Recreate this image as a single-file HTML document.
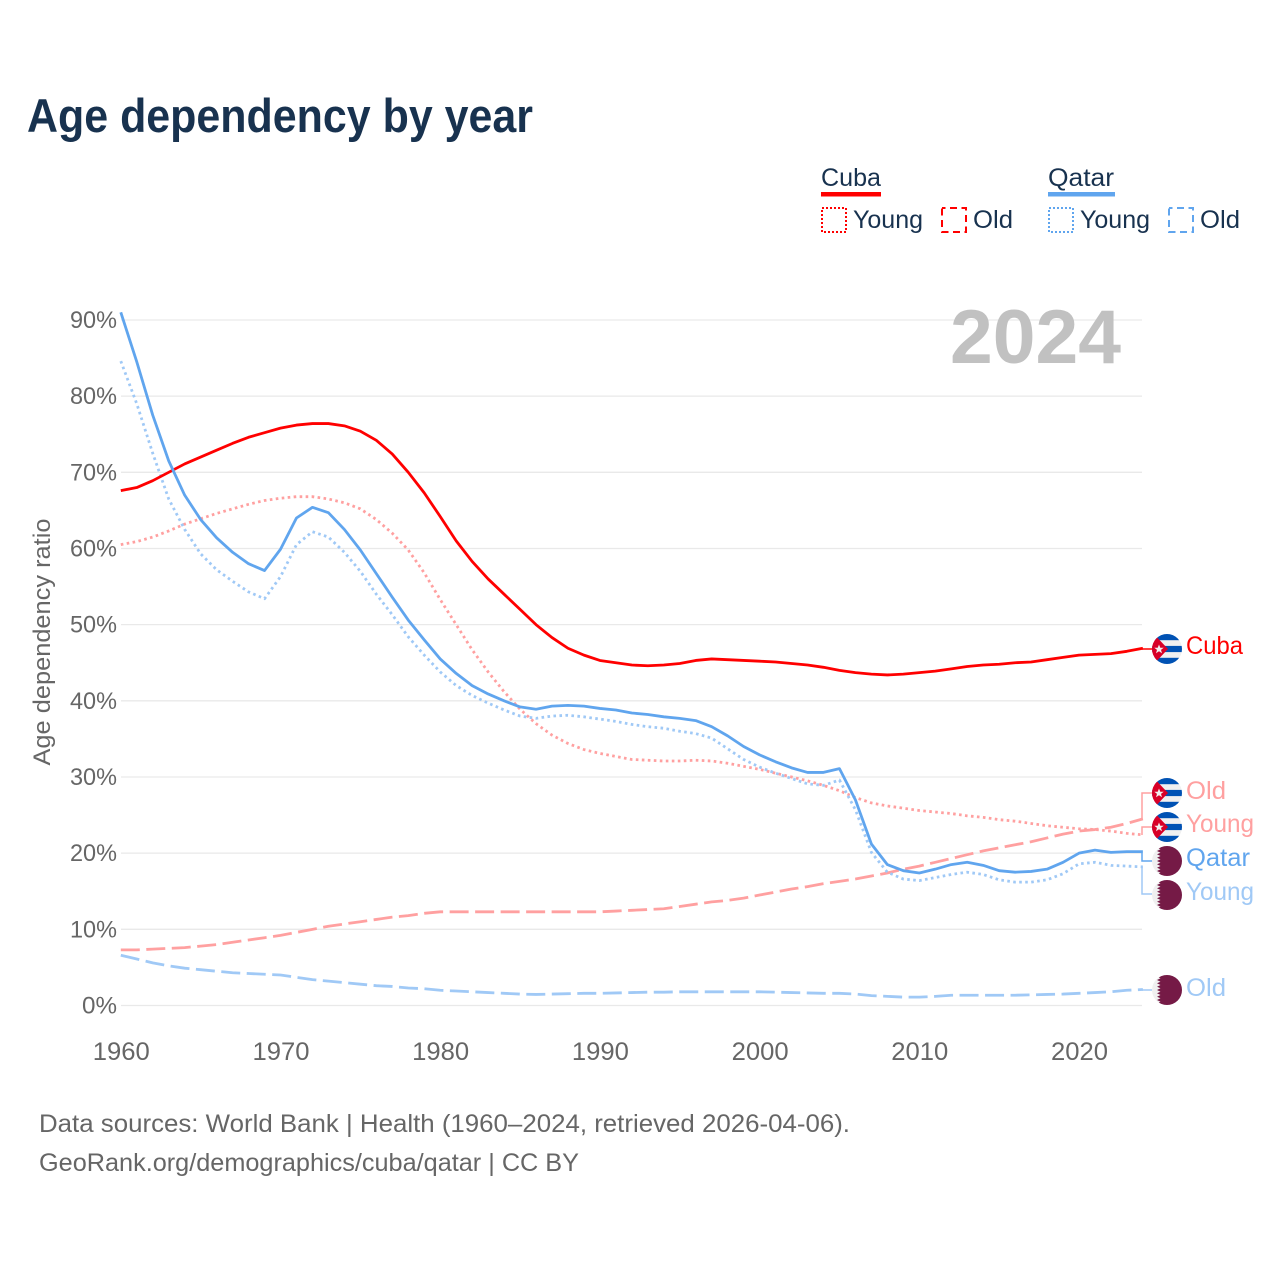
<!DOCTYPE html>
<html lang="en">
<head>
<meta charset="utf-8">
<title>Age dependency by year</title>
<style>
html,body{margin:0;padding:0;background:#fff;}
svg{display:block;font-family:"Liberation Sans",sans-serif;}
</style>
</head>
<body>
<svg id="chart" xmlns="http://www.w3.org/2000/svg" width="1280" height="1280" viewBox="0 0 1280 1280">
<defs>
<clipPath id="flag-clip"><circle cx="0" cy="0" r="15"/></clipPath>
<g id="flag-cuba" clip-path="url(#flag-clip)">
<rect x="-15" y="-15" width="30" height="30" fill="#f0f0f0"/>
<rect x="-15" y="-15" width="30" height="6.2" fill="#0052b4"/>
<rect x="-15" y="-3.1" width="30" height="6.2" fill="#0052b4"/>
<rect x="-15" y="8.8" width="30" height="6.2" fill="#0052b4"/>
<polygon points="-15,-17 1,0 -15,17" fill="#d80027"/>
<polygon points="-8,-4.5 -6.7,-1.2 -3.3,-1.2 -6,0.9 -5,4.3 -8,2.3 -11,4.3 -10,0.9 -12.7,-1.2 -9.3,-1.2" fill="#f0f0f0"/>
</g>
<g id="flag-qatar" clip-path="url(#flag-clip)">
<rect x="-15" y="-15" width="30" height="30" fill="#f0f0f0"/>
<path d="M-6.5 -15L-10 -13.3L-6.5 -11.7L-10 -10L-6.5 -8.3L-10 -6.7L-6.5 -5L-10 -3.3L-6.5 -1.7L-10 0L-6.5 1.7L-10 3.3L-6.5 5L-10 6.7L-6.5 8.3L-10 10L-6.5 11.7L-10 13.3L-6.5 15L15 15L15 -15Z" fill="#751a46"/>
</g>
</defs>

<rect width="1280" height="1280" fill="#fff"/>
<text x="27" y="132" font-size="47" font-weight="700" fill="#18324f" textLength="506" lengthAdjust="spacingAndGlyphs">Age dependency by year</text>

<g font-size="25" fill="#18324f">
<text x="821" y="186" textLength="60" lengthAdjust="spacingAndGlyphs">Cuba</text>
<rect x="821" y="192" width="60" height="4.5" fill="#ff0000"/>
<rect x="822" y="208" width="24" height="24" fill="none" stroke="#ff0000" stroke-width="2" stroke-dasharray="2 2"/>
<text x="853" y="228" textLength="70" lengthAdjust="spacingAndGlyphs">Young</text>
<rect x="942" y="208" width="24" height="24" fill="none" stroke="#ff0000" stroke-width="2" stroke-dasharray="7 4.5" stroke-dashoffset="3.5"/>
<text x="973" y="228" textLength="40" lengthAdjust="spacingAndGlyphs">Old</text>
<text x="1048" y="186" textLength="66" lengthAdjust="spacingAndGlyphs">Qatar</text>
<rect x="1048" y="192" width="67" height="4.5" fill="#60a5ee"/>
<rect x="1049" y="208" width="24" height="24" fill="none" stroke="#60a5ee" stroke-width="2" stroke-dasharray="2 2"/>
<text x="1080" y="228" textLength="70" lengthAdjust="spacingAndGlyphs">Young</text>
<rect x="1169" y="208" width="24" height="24" fill="none" stroke="#60a5ee" stroke-width="2" stroke-dasharray="7 4.5" stroke-dashoffset="3.5"/>
<text x="1200" y="228" textLength="40" lengthAdjust="spacingAndGlyphs">Old</text>
</g>

<g id="grid"></g>
<g id="yticks"></g>
<g id="xticks"></g>
<text transform="translate(50 642) rotate(-90)" text-anchor="middle" font-size="24" fill="#666" textLength="247" lengthAdjust="spacingAndGlyphs">Age dependency ratio</text>
<text x="950" y="363" font-size="76" font-weight="700" fill="#c1c1c1" textLength="171" lengthAdjust="spacingAndGlyphs">2024</text>

<g id="series"></g>

<g fill="none" stroke-width="1.5">
<path d="M1142 649H1152" stroke="#ff0000"/>
<path d="M1142 820V793H1152" stroke="#ffa0a0"/>
<path d="M1142 835V827H1152" stroke="#ffa0a0"/>
<path d="M1142 853V861H1152" stroke="#60a5ee"/>
<path d="M1142 867V894H1152" stroke="#a0c9f6"/>
<path d="M1142 990H1152" stroke="#a0c9f6"/>
</g>

<use href="#flag-cuba" x="1167" y="649"/>
<use href="#flag-cuba" x="1167" y="793"/>
<use href="#flag-cuba" x="1167" y="827"/>
<use href="#flag-qatar" x="1167" y="861"/>
<use href="#flag-qatar" x="1167" y="895"/>
<use href="#flag-qatar" x="1167" y="990"/>

<g font-size="25">
<text x="1186" y="654" fill="#ff0000" textLength="57" lengthAdjust="spacingAndGlyphs">Cuba</text>
<text x="1186" y="799" fill="#ffa0a0" textLength="40" lengthAdjust="spacingAndGlyphs">Old</text>
<text x="1186" y="832" fill="#ffa0a0" textLength="68" lengthAdjust="spacingAndGlyphs">Young</text>
<text x="1186" y="866" fill="#60a5ee" textLength="64" lengthAdjust="spacingAndGlyphs">Qatar</text>
<text x="1186" y="900" fill="#a0c9f6" textLength="68" lengthAdjust="spacingAndGlyphs">Young</text>
<text x="1186" y="996" fill="#a0c9f6" textLength="40" lengthAdjust="spacingAndGlyphs">Old</text>
</g>

<g font-size="25" fill="#666">
<text x="39" y="1132" textLength="811" lengthAdjust="spacingAndGlyphs">Data sources: World Bank | Health (1960–2024, retrieved 2026-04-06).</text>
<text x="39" y="1171" textLength="540" lengthAdjust="spacingAndGlyphs">GeoRank.org/demographics/cuba/qatar | CC BY</text>
</g>

<script>
const startYear = 1960;
const yTickValues = [0, 10, 20, 30, 40, 50, 60, 70, 80, 90];
const xTickValues = [1960, 1970, 1980, 1990, 2000, 2010, 2020];
const cubaTotal = [67.6,68,68.9,70,71.1,72,72.9,73.8,74.6,75.2,75.8,76.2,76.4,76.4,76.1,75.4,74.2,72.4,70,67.3,64.2,61,58.3,56,54,52,50,48.3,46.9,46,45.3,45,44.7,44.6,44.7,44.9,45.3,45.5,45.4,45.3,45.2,45.1,44.9,44.7,44.4,44,43.7,43.5,43.4,43.5,43.7,43.9,44.2,44.5,44.7,44.8,45,45.1,45.4,45.7,46,46.1,46.2,46.5,46.9];
const cubaYoung = [60.5,60.9,61.5,62.3,63.2,63.9,64.6,65.2,65.8,66.3,66.6,66.8,66.8,66.5,66,65.2,63.8,62,59.8,56.8,53.3,50,46.7,43.8,41.2,38.9,37,35.5,34.4,33.6,33.1,32.7,32.3,32.2,32.1,32.1,32.2,32.1,31.8,31.4,31,30.5,30,29.5,28.9,28.2,27.3,26.6,26.2,25.9,25.6,25.4,25.2,24.9,24.7,24.4,24.2,23.9,23.6,23.4,23.2,23.1,22.9,22.6,22.4];
const cubaOld = [7.3,7.3,7.4,7.5,7.6,7.8,8,8.3,8.6,8.9,9.2,9.6,10,10.4,10.7,11,11.3,11.6,11.8,12.1,12.3,12.3,12.3,12.3,12.3,12.3,12.3,12.3,12.3,12.3,12.3,12.4,12.5,12.6,12.7,13,13.3,13.6,13.8,14.1,14.5,14.9,15.3,15.6,16,16.3,16.6,17,17.4,17.9,18.3,18.8,19.3,19.8,20.3,20.7,21.1,21.5,22,22.5,22.9,23.1,23.4,23.9,24.5];
const qatarTotal = [91,84.5,77.5,71.5,67,63.8,61.4,59.5,58,57.1,59.9,64,65.4,64.7,62.5,59.8,56.7,53.6,50.6,48,45.5,43.6,42,40.9,40,39.2,38.9,39.3,39.4,39.3,39,38.8,38.4,38.2,37.9,37.7,37.4,36.6,35.4,34,32.9,32,31.2,30.6,30.6,31.1,27,21.2,18.5,17.7,17.4,17.9,18.5,18.8,18.4,17.7,17.5,17.6,17.9,18.8,20,20.4,20.1,20.2,20.2];
const qatarYoung = [84.6,79,72.5,66.5,62.5,59.3,57.2,55.7,54.3,53.4,56.3,60.5,62.2,61.5,59.5,57,54,51.3,48.4,46,43.8,42,40.7,39.7,38.8,38,37.7,38,38.1,37.9,37.6,37.3,36.9,36.6,36.4,36,35.7,35.1,33.7,32.3,31.3,30.5,29.8,29.1,28.9,29.6,25.7,20.1,17.5,16.6,16.4,16.8,17.2,17.5,17.2,16.5,16.2,16.2,16.5,17.3,18.6,18.8,18.4,18.3,18.2];
const qatarOld = [6.6,6.1,5.6,5.2,4.9,4.7,4.5,4.3,4.2,4.1,4,3.7,3.4,3.2,3,2.8,2.6,2.5,2.3,2.2,2,1.9,1.8,1.7,1.6,1.5,1.45,1.5,1.55,1.6,1.6,1.65,1.7,1.75,1.75,1.8,1.8,1.8,1.8,1.8,1.8,1.75,1.7,1.65,1.6,1.6,1.5,1.3,1.2,1.1,1.1,1.2,1.35,1.35,1.35,1.35,1.35,1.4,1.45,1.5,1.6,1.7,1.8,2,2.1];

const NS = 'http://www.w3.org/2000/svg';
function xScale(year) { return 120.8 + (year - 1960) * 15.97; }
function yScale(pct) { return 1005.5 - pct * 7.617; }

const gridLayer = document.getElementById('grid');
const yLayer = document.getElementById('yticks');
const xLayer = document.getElementById('xticks');
const seriesLayer = document.getElementById('series');

yTickValues.forEach(function (v) {
  const line = document.createElementNS(NS, 'line');
  
  
  line.setAttribute('x1', 121);
  line.setAttribute('x2', 1142);
  line.setAttribute('y1', yScale(v));
  line.setAttribute('y2', yScale(v));
  line.setAttribute('stroke', '#e9e9e9');
  line.setAttribute('stroke-width', '1.3');
  gridLayer.appendChild(line);

  const label = document.createElementNS(NS, 'text');
  
  
  label.setAttribute('x', 117);
  label.setAttribute('y', yScale(v) + 8);
  label.setAttribute('text-anchor', 'end');
  label.setAttribute('font-size', '24');
  label.setAttribute('fill', '#666');
  label.setAttribute('textLength', v === 0 ? '35' : '47');
  label.setAttribute('lengthAdjust', 'spacingAndGlyphs');
  label.textContent = v + '%';
  yLayer.appendChild(label);
});

xTickValues.forEach(function (v) {
  const label = document.createElementNS(NS, 'text');
  
  
  label.setAttribute('x', xScale(v) + 0.5);
  label.setAttribute('y', 1060);
  label.setAttribute('text-anchor', 'middle');
  label.setAttribute('font-size', '25');
  label.setAttribute('fill', '#666');
  label.setAttribute('textLength', '57');
  label.setAttribute('lengthAdjust', 'spacingAndGlyphs');
  label.textContent = v;
  xLayer.appendChild(label);
});

function drawSeries(name, values, color, dash) {
  const path = document.createElementNS(NS, 'path');
  
  
  const d = values.map(function (v, i) {
    return (i ? 'L' : 'M') + xScale(startYear + i).toFixed(2) + ' ' + yScale(v).toFixed(2);
  }).join('');
  path.setAttribute('d', d);
  path.setAttribute('fill', 'none');
  path.setAttribute('stroke', color);
  path.setAttribute('stroke-width', '2.8');
  path.setAttribute('stroke-linejoin', 'round');
  if (dash) path.setAttribute('stroke-dasharray', dash);
  seriesLayer.appendChild(path);
}

const dotted = '2.6 3.4';
const dashed = '19 6.5';
drawSeries('line-qatar-old', qatarOld, '#a0c9f6', dashed);
drawSeries('line-cuba-old', cubaOld, '#ffa0a0', dashed);
drawSeries('line-cuba-young', cubaYoung, '#ffa0a0', dotted);
drawSeries('line-qatar-young', qatarYoung, '#a0c9f6', dotted);
drawSeries('line-cuba-total', cubaTotal, '#ff0000', null);
drawSeries('line-qatar-total', qatarTotal, '#60a5ee', null);
</script>
</svg>
</body>
</html>
